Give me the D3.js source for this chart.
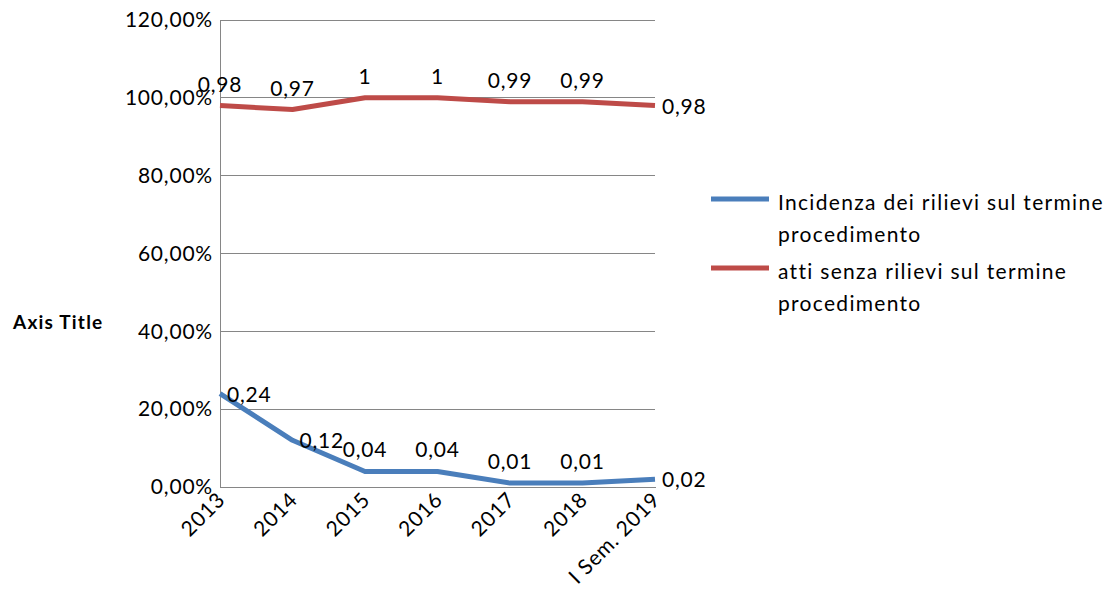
<!DOCTYPE html>
<html>
<head>
<meta charset="utf-8">
<script src="https://cdn.jsdelivr.net/npm/d3@7"></script>
<style>
  html, body { margin: 0; padding: 0; background: #fff; }
  svg { display: block; font-family: Lato, "Open Sans", sans-serif; }
</style>
</head>
<body>
<svg id="chart" width="1120" height="600"></svg>
<script>
// Categories along the horizontal axis
const categories = ["2013", "2014", "2015", "2016", "2017", "2018", "I Sem. 2019"];

// Series values (shares, 1 = 100%)
const incidenzaRilievi = [0.24, 0.12, 0.04, 0.04, 0.01, 0.01, 0.02];
const attiSenzaRilievi = [0.98, 0.97, 1, 1, 0.99, 0.99, 0.98];

const seriesNames = [
  ["Incidenza dei rilievi sul termine", "procedimento"],
  ["atti senza rilievi sul termine", "procedimento"]
];

// Y axis ticks
const yTicks = [0, 0.2, 0.4, 0.6, 0.8, 1.0, 1.2];

const itLocale = d3.formatLocale({
  decimal: ",", thousands: ".", grouping: [3], currency: ["", " €"]
});
const pct = itLocale.format(".2%");
const general = v => String(+v.toFixed(2)).replace(".", ",");

const FONT = 21;
const SPACING = "0.8px";

const svg = d3.select("#chart");
const plot = { left: 220, right: 655, top: 20, bottom: 487 };

const x = d3.scalePoint().domain(categories).range([plot.left, plot.right]);
const y = d3.scaleLinear().domain([0, 1.2]).range([plot.bottom, plot.top]);

// Horizontal gridlines
svg.append("g")
  .selectAll("line")
  .data(yTicks)
  .join("line")
  .attr("x1", plot.left).attr("x2", plot.right)
  .attr("y1", d => y(d)).attr("y2", d => y(d))
  .attr("stroke", "#868686").attr("stroke-width", 1)
  .attr("shape-rendering", "crispEdges");

// Y axis
const yAxis = svg.append("g")
  .attr("transform", `translate(${plot.left},0)`)
  .call(d3.axisLeft(y).tickValues(yTicks).tickFormat(pct).tickSize(0).tickPadding(7));
yAxis.select(".domain").attr("stroke", "#868686").attr("shape-rendering", "crispEdges");
yAxis.selectAll("text")
  .attr("font-size", FONT).attr("letter-spacing", SPACING)
  .attr("fill", "#000").attr("font-family", "Lato, sans-serif");

// X axis
const xAxis = svg.append("g")
  .attr("transform", `translate(0,${plot.bottom})`)
  .call(d3.axisBottom(x).tickSize(0).tickPadding(0));
xAxis.select(".domain").attr("stroke", "#868686").attr("shape-rendering", "crispEdges");
xAxis.selectAll("text")
  .attr("font-size", FONT).attr("letter-spacing", SPACING)
  .attr("fill", "#000").attr("font-family", "Lato, sans-serif")
  .attr("text-anchor", "end")
  .attr("dy", null).attr("y", 0)
  .attr("transform", "translate(6,14) rotate(-45)");

// Axis title
svg.append("text")
  .attr("x", 13).attr("y", 329)
  .attr("font-size", 19).attr("font-weight", "bold").attr("letter-spacing", "1.2px")
  .attr("fill", "#000")
  .text("Axis Title");

// Lines and data labels
const series = [
  { values: incidenzaRilievi, color: "#4A7EBB",
    place: ["right", "right", "above", "above", "above", "above", "right"] },
  { values: attiSenzaRilievi, color: "#BE4B48",
    place: ["above", "above", "above", "above", "above", "above", "right"] }
];

const line = d3.line().x((d, i) => x(categories[i])).y(d => y(d));

series.forEach(s => {
  svg.append("path")
    .datum(s.values)
    .attr("d", line)
    .attr("fill", "none")
    .attr("stroke", s.color)
    .attr("stroke-width", 5)
    .attr("stroke-linejoin", "round");
});

series.forEach(s => {
  svg.append("g")
    .selectAll("text")
    .data(s.values)
    .join("text")
    .attr("font-size", FONT).attr("letter-spacing", SPACING).attr("fill", "#000")
    .attr("text-anchor", (d, i) => s.place[i] === "above" ? "middle" : "start")
    .attr("x", (d, i) => s.place[i] === "above" ? x(categories[i]) : x(categories[i]) + 7)
    .attr("y", (d, i) => s.place[i] === "above" ? y(d) - 14 : y(d) + 8)
    .text(d => general(d));
});

// Legend
const legend = svg.append("g");
series.forEach((s, i) => {
  const top = 199 + i * 69;
  legend.append("line")
    .attr("x1", 711).attr("x2", 769)
    .attr("y1", top).attr("y2", top)
    .attr("stroke", s.color).attr("stroke-width", 5);
  legend.append("text")
    .attr("x", 778).attr("y", top + 11)
    .attr("font-size", FONT).attr("letter-spacing", "1.3px").attr("fill", "#000")
    .selectAll("tspan")
    .data(seriesNames[i])
    .join("tspan")
    .attr("x", 778)
    .attr("dy", (d, j) => j === 0 ? 0 : 32)
    .text(d => d);
});
</script>
</body>
</html>
